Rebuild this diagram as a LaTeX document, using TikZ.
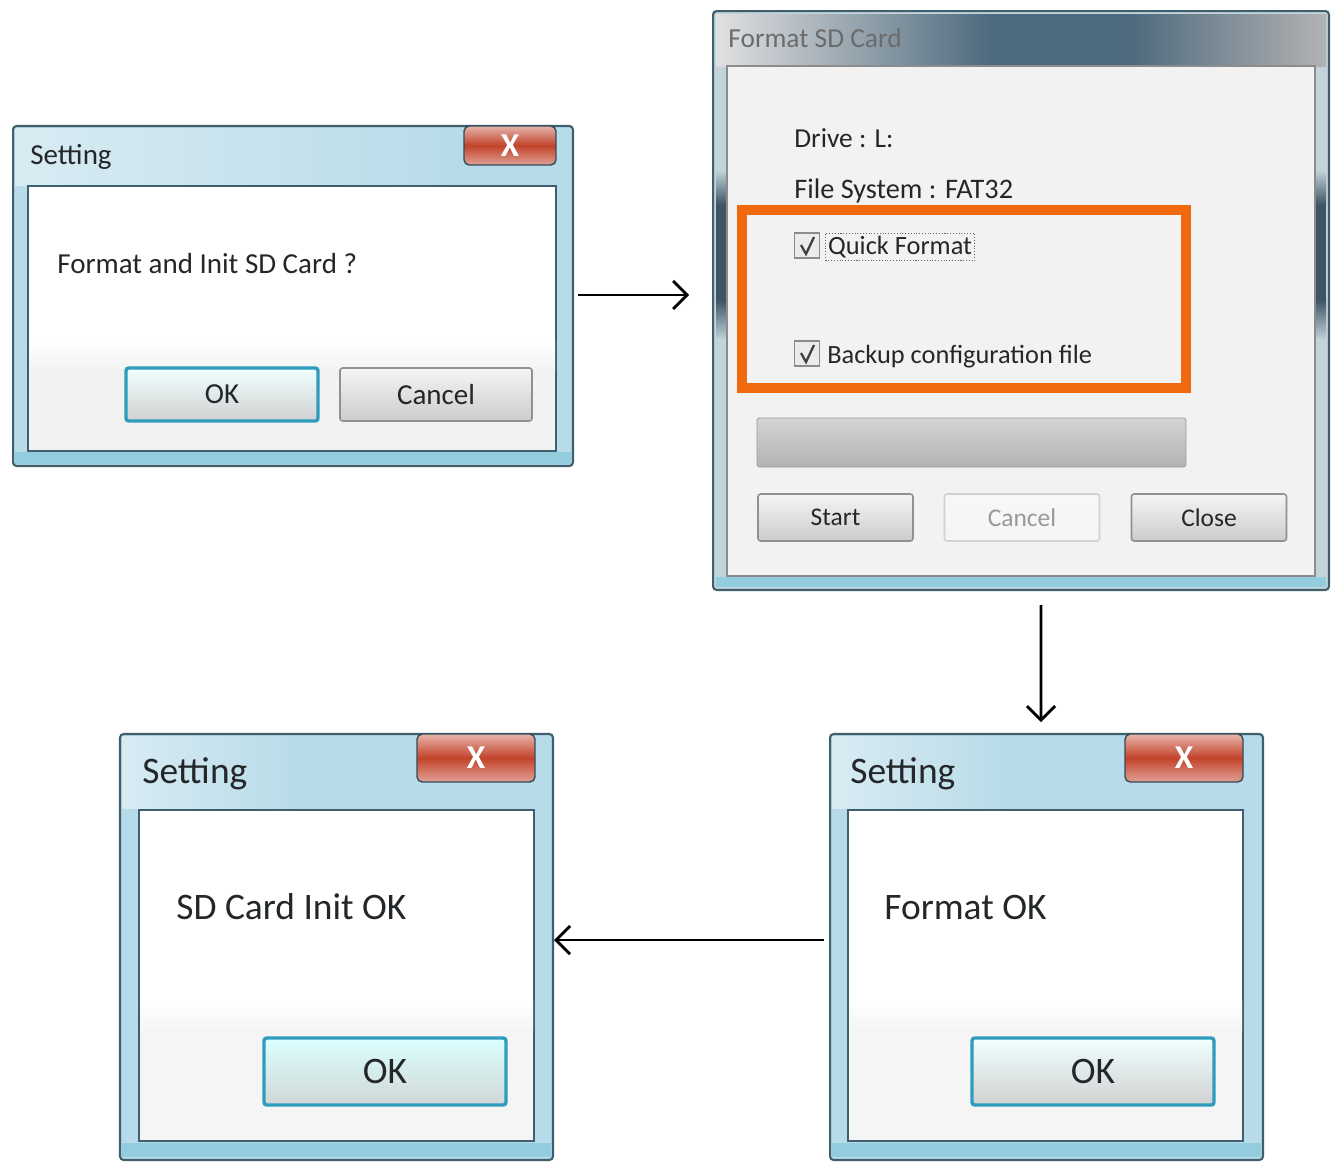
\documentclass[tikz,border=0pt]{standalone}
\usepackage{fontspec}
\setmainfont{Carlito}
\usetikzlibrary{arrows.meta}
\definecolor{frameblue}{HTML}{B8DBE9}
\definecolor{framedark}{HTML}{3F5F6E}
\definecolor{framepale}{HTML}{C3D3DA}
\definecolor{framestrip}{HTML}{93CBDF}
\definecolor{slate}{HTML}{4E6A7E}
\definecolor{txtdark}{HTML}{24272A}
\definecolor{btnedge}{HTML}{8E9294}
\definecolor{okedge}{HTML}{2F9CBE}
\definecolor{closered}{HTML}{C2432B}
\definecolor{markorange}{HTML}{F0690F}
\tikzset{
  winbox/.style={draw=framedark,line width=1.2pt,rounded corners=2pt,inner sep=0pt,fill=frameblue},
  clientbox/.style={draw=framedark,line width=1pt,fill=white,inner sep=0pt},
  closebox/.style={draw=framedark!80!black,line width=.8pt,rounded corners=3pt,inner sep=0pt,
    top color=closered!40!white,bottom color=closered!50!white,middle color=closered,text=white,font=\bfseries\fontsize{19}{20}\selectfont},
  btn/.style={draw=btnedge,line width=.9pt,rounded corners=1.5pt,inner sep=0pt,text=txtdark,
    top color=black!4,bottom color=black!20},
  okbtn/.style={btn,draw=okedge,line width=1.9pt,top color=cyan!6,bottom color=black!18},
  txtsmall/.style={anchor=west,inner sep=0pt,text=txtdark,font=\fontsize{16.5}{18}\selectfont},
  txtbig/.style={anchor=west,inner sep=0pt,text=txtdark,font=\fontsize{21.3}{24}\selectfont},
  tickbox/.style={draw=black!45,fill=black!8,line width=.8pt,inner sep=0pt,minimum size=.5cm},
  tick/.style={black!75,line width=1.3pt},
  flow/.style={-{Straight Barb[length=8pt,width=16pt]},line width=1.6pt,black},
}
\begin{document}
\begin{tikzpicture}[x=0.02cm,y=-0.02cm]
\useasboundingbox (0,0) rectangle (1335,1170);

% first dialog
\node [winbox,minimum width=11.2cm,minimum height=6.8cm] (w1) at (293,296) {};
\fill [left color=frameblue!55!white,right color=frameblue] (15,128) rectangle (460,185);
\fill [framestrip] (15,452) rectangle (571,464);
\node [clientbox,minimum width=10.56cm,minimum height=5.3cm] (c1) at (292,318.5) {};
\fill [top color=white,bottom color=black!5] (29,340) rectangle (555,372);
\fill [black!5] (29,372) rectangle (555,450);
\node [closebox,minimum width=1.84cm,minimum height=.78cm] (x1) at (510,145.5) {X};
\node [txtsmall] (t1) at (30,157) {Setting};
\node [txtsmall] (m1) at (57,264) {Format and Init SD Card ?};
\node [okbtn,font=\fontsize{16.5}{18}\selectfont,minimum width=3.84cm,minimum height=1.06cm] (ok1) at (222,394.5) {OK};
\node [btn,font=\fontsize{16.5}{18}\selectfont,minimum width=3.84cm,minimum height=1.06cm] (cancel1) at (436,394.5) {Cancel};

% format dialog
\node [winbox,minimum width=12.32cm,minimum height=11.58cm,fill=framepale] (w2) at (1021,300.5) {};
\fill [left color=black!12,right color=slate] (716,14) rectangle (990,66);
\fill [slate] (990,14) rectangle (1130,66);
\fill [left color=slate,right color=black!30] (1130,14) rectangle (1326,66);
\fill [top color=framepale,bottom color=slate!80!black] (716,170) rectangle (726,205);
\fill [slate!80!black] (716,205) rectangle (726,300);
\fill [top color=slate!80!black,bottom color=framepale] (716,300) rectangle (726,340);
\fill [top color=framepale,bottom color=slate!80!black] (1316,170) rectangle (1326,205);
\fill [slate!80!black] (1316,205) rectangle (1326,300);
\fill [top color=slate!80!black,bottom color=framepale] (1316,300) rectangle (1326,340);
\fill [framestrip] (716,577) rectangle (1326,587);
\node [clientbox,minimum width=11.76cm,minimum height=10.2cm,fill=black!5,draw=black!45] (c2) at (1021,321) {};
\node [txtsmall,text=black!58,font=\fontsize{15.6}{16}\selectfont] (t2) at (728,38) {Format SD Card};
\node [txtsmall,font=\fontsize{15.6}{18}\selectfont] (drive) at (794,138) {Drive : L:};
\node [txtsmall,font=\fontsize{16.1}{18}\selectfont] (fsys) at (794,191) {File System : FAT32};
\node [tickbox] (q1) at (807,245.5) {};
\draw [tick] (801,245) -- (806,254) -- (814,237);
\node [txtsmall,font=\fontsize{15}{18}\selectfont,draw=black!60,densely dotted,line width=.6pt,inner sep=1.5pt] (quick) at (825,247) {Quick Format};
\node [tickbox] (q2) at (807,353.5) {};
\draw [tick] (801,353) -- (806,362) -- (814,345);
\node [txtsmall,font=\fontsize{15}{18}\selectfont] (backup) at (827,357) {Backup configuration file};
\node [draw=markorange,line width=5.6pt,minimum width=8.88cm,minimum height=3.56cm,inner sep=0pt] (mark) at (964,299) {};
\node [draw=black!40,top color=black!17,bottom color=black!30,rounded corners=1pt,inner sep=0pt,minimum width=8.58cm,minimum height=.98cm] (bar) at (971.5,442.5) {};
\node [btn,font=\fontsize{14.5}{16}\selectfont,minimum width=3.1cm,minimum height=.94cm] (start) at (835.5,517.5) {Start};
\node [btn,font=\fontsize{14.5}{16}\selectfont,minimum width=3.1cm,minimum height=.94cm,draw=black!18,top color=black!3,bottom color=black!4,text=black!40] (cancel2) at (1022,517.5) {Cancel};
\node [btn,font=\fontsize{14.5}{16}\selectfont,minimum width=3.1cm,minimum height=.94cm] (close) at (1209,517.5) {Close};

% format ok
\node [winbox,minimum width=8.66cm,minimum height=8.52cm] (w3) at (1046.5,947) {};
\fill [left color=frameblue!55!white,right color=frameblue] (832,736) rectangle (1010,808);
\fill [framestrip] (832,1143) rectangle (1261,1157);
\node [clientbox,minimum width=7.9cm,minimum height=6.62cm] (c3) at (1045.5,975.5) {};
\fill [top color=white,bottom color=black!4] (849,1000) rectangle (1242,1030);
\fill [black!4] (849,1030) rectangle (1242,1140);
\node [closebox,minimum width=2.36cm,minimum height=.96cm] (x3) at (1184,758) {X};
\node [txtbig] (t3) at (850,774) {Setting};
\node [txtbig] (m3) at (884,907) {Format OK};
\node [okbtn,font=\fontsize{21.3}{24}\selectfont,minimum width=4.84cm,minimum height=1.34cm] (ok3) at (1093,1071.5) {OK};

% init ok
\node [winbox,minimum width=8.66cm,minimum height=8.52cm] (w4) at (336.5,947) {};
\fill [left color=frameblue!55!white,right color=frameblue] (122,736) rectangle (300,808);
\fill [framestrip] (122,1143) rectangle (551,1157);
\node [clientbox,minimum width=7.9cm,minimum height=6.62cm] (c4) at (336.5,975.5) {};
\fill [top color=white,bottom color=black!4] (140,1000) rectangle (533,1030);
\fill [black!4] (140,1030) rectangle (533,1140);
\node [closebox,minimum width=2.36cm,minimum height=.96cm] (x4) at (476,758) {X};
\node [txtbig] (t4) at (142,774) {Setting};
\node [txtbig] (m4) at (176,907) {SD Card Init OK};
\node [okbtn,font=\fontsize{21.3}{24}\selectfont,top color=cyan!14,bottom color=cyan!12!black!18,minimum width=4.84cm,minimum height=1.34cm] (ok4) at (385,1071.5) {OK};

\draw [flow,shorten <=2.3pt,shorten >=13pt] ([yshift=.6pt]w1.east) -- ([yshift=.6pt]w1.east -| w2.west);
\draw [flow,shorten <=8pt,shorten >=6.2pt] ([xshift=11.34pt]w2.south) -- ([xshift=-3.1pt]w3.north);
\draw [flow,shorten <=2.8pt] ([yshift=3.97pt]w3.west) -- ([yshift=3.97pt]w4.east);
\end{tikzpicture}
\end{document}
